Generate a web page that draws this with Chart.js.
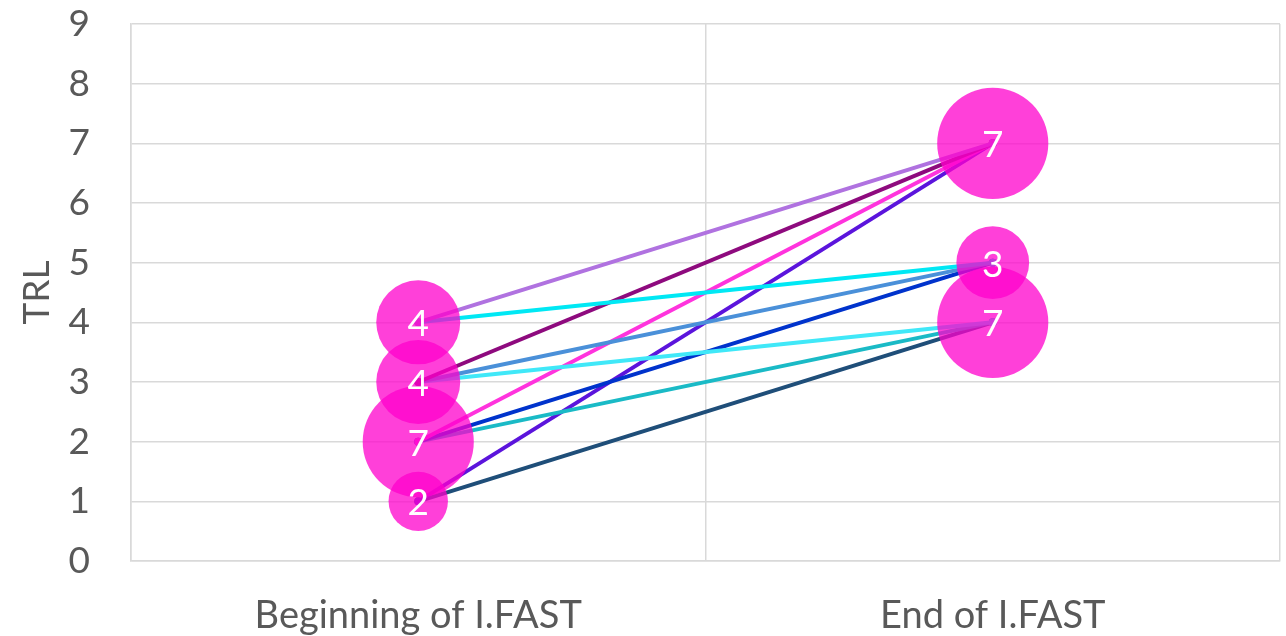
<!DOCTYPE html>
<html>
<head>
<meta charset="utf-8">
<script src="https://cdn.jsdelivr.net/npm/chart.js@4/dist/chart.umd.min.js"></script>
<style>
  html, body { margin: 0; padding: 0; background: #ffffff; }
  #wrap { width: 1286px; height: 636px; }
</style>
</head>
<body>
<div id="wrap"><canvas id="trl" width="1286" height="636"></canvas></div>
<script>
// Phase names on the horizontal axis (placed at x = 0.5 and 1.5)
const categories = ['Beginning of I.FAST', 'End of I.FAST'];
const categoryX = [0.5, 1.5];

// Number of projects at each TRL at the beginning
const beginLevels = [1, 2, 3, 4];
const beginCounts = [2, 7, 4, 4];

// Number of projects at each TRL at the end
const endLevels = [4, 5, 7];
const endCounts = [7, 3, 7];

// Project progressions: starting TRL -> final TRL
const fromTRL = [4, 4, 3, 3, 3, 2, 2, 2, 1, 1];
const toTRL   = [7, 5, 7, 5, 4, 7, 5, 4, 7, 4];
const pathColors = ['#B072E0', '#00E8F4', '#8E0A7E', '#4A90D9', '#40E8F8',
                    '#FF33DD', '#0033CC', '#1ABAC6', '#5B14DC', '#1F4E79'];

// Y axis ticks
const yTicks = [0, 1, 2, 3, 4, 5, 6, 7, 8, 9];

const FONT = 'Lato, "Open Sans", sans-serif';
const TEXT = '#595959';
const GRID = '#D9D9D9';
const BUBBLE = 'rgba(255, 0, 204, 0.75)';
const RADIUS_PER_SQRT = 21; // bubble area proportional to project count

function bubblePoints(x, levels, counts) {
  return levels.map((lv, i) => ({ x: x, y: lv, r: RADIUS_PER_SQRT * Math.sqrt(counts[i]), n: counts[i] }));
}

const datasets = [];

fromTRL.forEach((f, i) => {
  datasets.push({
    type: 'line',
    data: [{ x: categoryX[0], y: f }, { x: categoryX[1], y: toTRL[i] }],
    borderColor: pathColors[i],
    backgroundColor: pathColors[i],
    borderWidth: 4,
    pointRadius: 4,
    pointBorderWidth: 0,
    pointBackgroundColor: pathColors[i],
    order: 2
  });
});

datasets.push({
  type: 'bubble',
  data: bubblePoints(categoryX[0], beginLevels, beginCounts),
  backgroundColor: BUBBLE,
  borderWidth: 0,
  order: 1
});
datasets.push({
  type: 'bubble',
  data: bubblePoints(categoryX[1], endLevels, endCounts),
  backgroundColor: BUBBLE,
  borderWidth: 0,
  order: 1
});

// Writes the project count in the middle of every bubble
const countLabels = {
  id: 'countLabels',
  afterDatasetsDraw(chart) {
    const ctx = chart.ctx;
    ctx.save();
    ctx.fillStyle = '#ffffff';
    ctx.font = '37px ' + FONT;
    ctx.textAlign = 'center';
    ctx.textBaseline = 'middle';
    chart.data.datasets.forEach((ds, di) => {
      if (ds.type !== 'bubble') return;
      chart.getDatasetMeta(di).data.forEach((el, j) => {
        ctx.fillText(String(ds.data[j].n), el.x, el.y + 2);
      });
    });
    ctx.restore();
  }
};

// Label gaps should not push the plot area inwards
function noEdgePadding(scale) {
  scale.paddingTop = 0;
  scale.paddingBottom = 0;
  scale.paddingLeft = 0;
  scale.paddingRight = 0;
}

new Chart(document.getElementById('trl'), {
  type: 'bubble',
  data: { datasets },
  options: {
    responsive: false,
    animation: false,
    clip: false,
    layout: { autoPadding: false, padding: { top: 24, right: 6, left: 0, bottom: 0 } },
    plugins: { legend: { display: false }, tooltip: { enabled: false } },
    scales: {
      x: {
        type: 'linear',
        min: 0,
        max: 2,
        afterFit(scale) { scale.height = 75; noEdgePadding(scale); },
        afterBuildTicks(scale) {
          scale.ticks = [0, 0.5, 1, 1.5, 2].map(v => ({ value: v }));
        },
        ticks: {
          autoSkip: false,
          maxRotation: 0,
          padding: 32,
          color: TEXT,
          font: { family: FONT, size: 38 },
          callback(v) {
            const k = categoryX.indexOf(v);
            return k >= 0 ? categories[k] : '';
          }
        },
        grid: {
          drawTicks: false,
          lineWidth: 1.5,
          color(ctx) { return ctx.tick && ctx.tick.value % 1 === 0 ? GRID : 'rgba(0,0,0,0)'; }
        },
        border: { display: true, color: GRID, width: 1.5 }
      },
      y: {
        type: 'linear',
        min: 0,
        max: 9,
        afterFit(scale) { scale.width = 131; noEdgePadding(scale); },
        afterBuildTicks(scale) {
          scale.ticks = yTicks.map(v => ({ value: v }));
        },
        ticks: {
          padding: 41,
          color: TEXT,
          font: { family: FONT, size: 37 }
        },
        grid: { drawTicks: false, lineWidth: 1.5, color: GRID },
        border: { display: true, color: GRID, width: 1.5 },
        title: {
          display: true,
          text: 'TRL',
          color: TEXT,
          font: { family: FONT, size: 37 },
          padding: { top: 15, bottom: 0 }
        }
      }
    }
  },
  plugins: [countLabels]
});
</script>
</body>
</html>
